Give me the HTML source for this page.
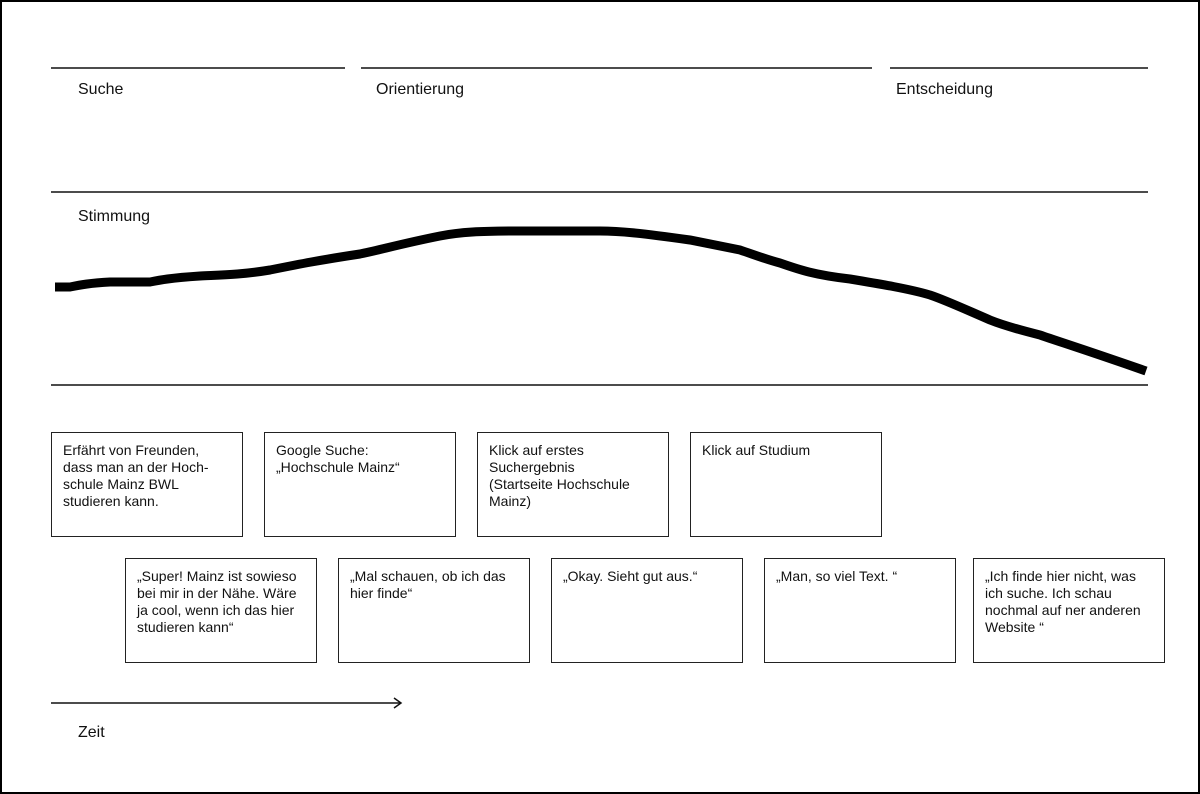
<!DOCTYPE html>
<html><head><meta charset="utf-8"><style>
body{margin:0;width:1200px;height:794px;background:#fff;font-family:"Liberation Sans",sans-serif;position:relative;overflow:hidden}
.frame{position:absolute;left:0;top:0;width:1196px;height:790px;border:2px solid #000}
.l{position:absolute;font-size:16px;color:#111}
.b{position:absolute;border:1.5px solid #222;box-sizing:border-box;font-size:14px;line-height:17px;padding:9px 11px;color:#111;width:192px;height:105px}
</style></head><body>
<div class="frame"></div>
<svg width="1200" height="794" style="position:absolute;left:0;top:0">
<g stroke="#111" stroke-width="1.5">
<line x1="51" y1="68" x2="345" y2="68"/><line x1="361" y1="68" x2="872" y2="68"/><line x1="890" y1="68" x2="1148" y2="68"/>
<line x1="51" y1="192" x2="1148" y2="192"/><line x1="51" y1="385" x2="1148" y2="385"/>
<line x1="51" y1="703" x2="400" y2="703"/>
</g>
<path d="M394,698 L401,703 L394,708" fill="none" stroke="#111" stroke-width="1.5"/>
<path d="M55,287 L70,287 C80,285 90,283 110,282 L150,282 C160,280 170,278 200,276 C220,275 240,275 270,270 C300,264 320,260 360,254 C380,250 400,244 440,236 C460,232 480,231 520,231 L600,231 C620,231 640,233 690,240 C710,244 725,247 740,250 C755,255 765,259 780,263 C800,270 815,275 850,279 C880,284 910,289 930,295 C945,300 960,307 990,320 C1005,326 1020,330 1040,335 C1060,342 1080,348 1146,371" fill="none" stroke="#000" stroke-width="9"/>
</svg>
<div class="l" style="left:78px;top:81px">Suche</div>
<div class="l" style="left:376px;top:81px">Orientierung</div>
<div class="l" style="left:896px;top:81px">Entscheidung</div>
<div class="l" style="left:78px;top:208px">Stimmung</div>
<div class="l" style="left:78px;top:724px">Zeit</div>
<div class="b" style="left:51px;top:432px">Erfährt von Freunden,<br>dass man an der Hoch-<br>schule Mainz BWL<br>studieren kann.</div>
<div class="b" style="left:264px;top:432px">Google Suche:<br>„Hochschule Mainz“</div>
<div class="b" style="left:477px;top:432px">Klick auf erstes<br>Suchergebnis<br>(Startseite Hochschule<br>Mainz)</div>
<div class="b" style="left:690px;top:432px">Klick auf Studium</div>
<div class="b" style="left:125px;top:558px">„Super! Mainz ist sowieso<br>bei mir in der Nähe. Wäre<br>ja cool, wenn ich das hier<br>studieren kann“</div>
<div class="b" style="left:338px;top:558px">„Mal schauen, ob ich das<br>hier finde“</div>
<div class="b" style="left:551px;top:558px">„Okay. Sieht gut aus.“</div>
<div class="b" style="left:764px;top:558px">„Man, so viel Text. “</div>
<div class="b" style="left:973px;top:558px">„Ich finde hier nicht, was<br>ich suche. Ich schau<br>nochmal auf ner anderen<br>Website “</div>
</body></html>
